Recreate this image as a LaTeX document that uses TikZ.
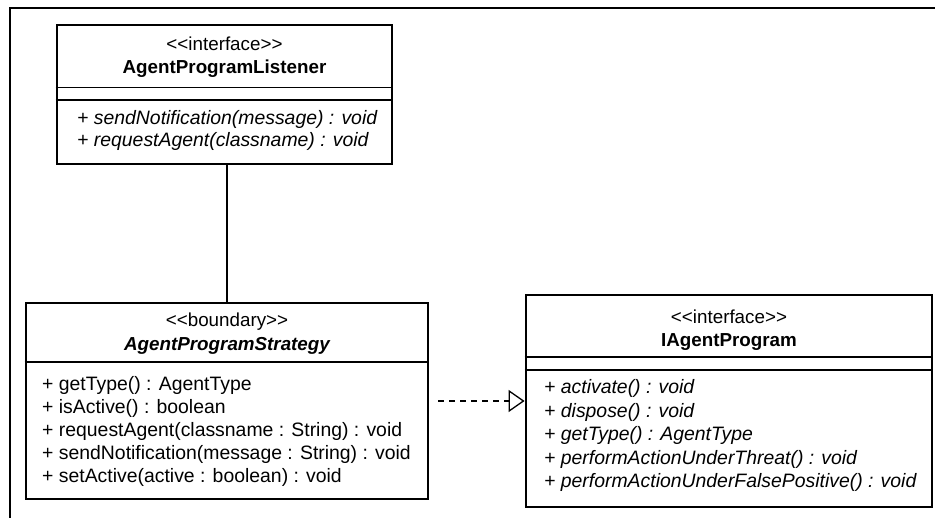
\documentclass[tikz,border=0pt]{standalone}
\usepackage{fontspec}
\setmainfont{Liberation Sans}
\usetikzlibrary{arrows.meta}

\begin{document}
\begin{tikzpicture}[x=1pt, y=-1pt,
  umlbox/.style={draw=black, line width=2.8pt, fill=white, rectangle, inner sep=0pt},
  divider/.style={draw=black, line width=1.4pt},
  txt/.style={inner sep=0pt, font=\fontsize{18.8}{23}\selectfont, text=black},
  stereo/.style={txt, anchor=base},
  cname/.style={txt, anchor=base, font=\fontsize{18.8}{23}\selectfont\bfseries},
  member/.style={txt, anchor=base west, font=\fontsize{19.4}{23}\selectfont},
  abstractmember/.style={member, font=\fontsize{19.4}{23}\selectfont\itshape},
  assoc/.style={draw=black, line width=1.4pt},
  realize/.style={draw=black, line width=1.3pt, dash pattern=on 6pt off 5pt,
    -{Triangle[open, length=16pt, width=22pt, line width=1.3pt, fill=white]}}
]
\useasboundingbox (0,0) rectangle (935,518);

% diagram frame
\draw[line width=2.8pt] (935,8) -- (10,8) -- (10,518);

% ---- AgentProgramListener ----
\node[umlbox, minimum width=335pt, minimum height=139pt] (b1) at (224.5,94.5) {};
\draw[divider] (b1.west |- 0,87.5) -- (b1.east |- 0,87.5);
\draw[divider] (b1.west |- 0,100) -- (b1.east |- 0,100);
\node[stereo] (b1s) at (224.5,51) {<{}<interface>{}>};
\node[cname] (b1n) at (224.5,74) {AgentProgramListener};
\node[abstractmember] (b1m1) at (77,125) {+ sendNotification(message) : void};
\node[abstractmember] (b1m2) at (77,147) {+ requestAgent(classname) : void};

% ---- AgentProgramStrategy ----
\node[umlbox, minimum width=402pt, minimum height=196pt] (b2) at (227,401) {};
\draw[divider] (b2.west |- 0,362) -- (b2.east |- 0,362);
\node[stereo] (b2s) at (227,327) {<{}<boundary>{}>};
\node[cname, font=\fontsize{18.8}{23}\selectfont\bfseries\itshape] (b2n) at (227,351) {AgentProgramStrategy};
\node[member] (b2m1) at (42,391) {+ getType() : AgentType};
\node[member] (b2m2) at (42,414) {+ isActive() : boolean};
\node[member] (b2m3) at (42,437) {+ requestAgent(classname : String) : void};
\node[member] (b2m4) at (42,460) {+ sendNotification(message : String) : void};
\node[member] (b2m5) at (42,483) {+ setActive(active : boolean) : void};

% ---- IAgentProgram ----
\node[umlbox, minimum width=406pt, minimum height=212pt] (b3) at (729,401) {};
\draw[divider] (b3.west |- 0,357) -- (b3.east |- 0,357);
\draw[divider] (b3.west |- 0,370) -- (b3.east |- 0,370);
\node[stereo] (b3s) at (729,324) {<{}<interface>{}>};
\node[cname] (b3n) at (729,347) {IAgentProgram};
\node[abstractmember] (b3m1) at (544,394) {+ activate() : void};
\node[abstractmember] (b3m2) at (544,417.5) {+ dispose() : void};
\node[abstractmember] (b3m3) at (544,441) {+ getType() : AgentType};
\node[abstractmember] (b3m4) at (544,464.5) {+ performActionUnderThreat() : void};
\node[abstractmember] (b3m5) at (544,488) {+ performActionUnderFalsePositive() : void};

% ---- relationships ----
\draw[assoc] (b2.north |- b1.south) -- (b2.north);
\draw[realize] ([xshift=9pt]b2.east) -- (b3.west);
\end{tikzpicture}
\end{document}
